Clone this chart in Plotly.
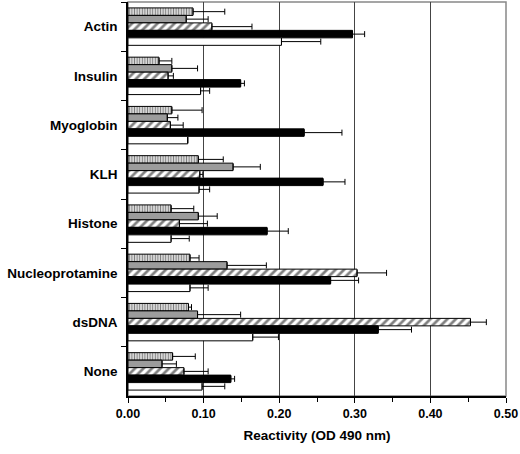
import plotly.graph_objects as go

antigens = ["Actin", "Insulin", "Myoglobin", "KLH", "Histone",
            "Nucleoprotamine", "dsDNA", "None"]

# five sera per antigen (top to bottom within a group)
striped = [0.086, 0.041, 0.058, 0.093, 0.057, 0.082, 0.080, 0.059]
striped_err = [0.042, 0.017, 0.040, 0.033, 0.030, 0.012, 0.004, 0.030]
gray = [0.077, 0.058, 0.052, 0.139, 0.093, 0.131, 0.092, 0.045]
gray_err = [0.029, 0.034, 0.014, 0.036, 0.025, 0.052, 0.057, 0.019]
hatched = [0.111, 0.053, 0.056, 0.095, 0.068, 0.303, 0.453, 0.074]
hatched_err = [0.053, 0.007, 0.017, 0.004, 0.037, 0.039, 0.021, 0.032]
black = [0.297, 0.149, 0.233, 0.258, 0.184, 0.268, 0.331, 0.136]
black_err = [0.016, 0.005, 0.050, 0.029, 0.028, 0.037, 0.044, 0.005]
white = [0.203, 0.096, 0.079, 0.094, 0.057, 0.082, 0.165, 0.098]
white_err = [0.052, 0.012, 0.000, 0.014, 0.024, 0.024, 0.034, 0.030]

x_ticks = [0, 0.1, 0.2, 0.3, 0.4, 0.5]
x_labels = ["0.00", "0.10", "0.20", "0.30", "0.40", "0.50"]

font = "Liberation Sans, Arial, sans-serif"


def bar(vals, errs, color, pattern=None):
    return go.Bar(
        y=antigens, x=vals, orientation="h",
        marker=dict(color=color, line=dict(color="black", width=1),
                    pattern=pattern),
        error_x=dict(type="data", array=errs, arrayminus=[0] * len(errs),
                     symmetric=False, color="black", thickness=1, width=3),
        showlegend=False,
    )


fig = go.Figure([
    bar(striped, striped_err, "white",
        dict(shape="|", fgcolor="black", bgcolor="white", size=2.6, solidity=0.55)),
    bar(gray, gray_err, "#9c9c9c"),
    bar(hatched, hatched_err, "white",
        dict(shape="/", fgcolor="black", bgcolor="white", size=6, solidity=0.45)),
    bar(black, black_err, "black"),
    bar(white, white_err, "white"),
])

fig.add_shape(type="rect", xref="paper", yref="paper", x0=0, x1=1, y0=0, y1=1,
              line=dict(color="#888", width=1.5), layer="below")

fig.update_layout(
    width=520, height=454,
    margin=dict(l=128, r=14, t=2, b=58, autoexpand=False),
    paper_bgcolor="white", plot_bgcolor="white",
    barmode="group", bargap=0.24, bargroupgap=0,
    font=dict(family=font, color="black"),
    xaxis=dict(
        range=[0, 0.5], tickvals=x_ticks, ticktext=x_labels,
        tickfont=dict(size=12.5, family=font, weight="bold"),
        ticks="outside", ticklen=5, tickcolor="black",
        showline=True, linecolor="black", linewidth=1.5,
        showgrid=True, gridcolor="#444", gridwidth=1,
        minor=dict(dtick=0.05, ticks="outside", ticklen=4, tickcolor="black",
                   showgrid=False),
        zeroline=False,
        title=dict(text="Reactivity (OD 490 nm)", standoff=11,
                   font=dict(size=13.5, family=font, weight="bold")),
    ),
    yaxis=dict(
        autorange="reversed", type="category",
        tickson="boundaries", ticks="outside", ticklen=5, tickcolor="black",
        showline=True, linecolor="black", linewidth=1.5,
        showgrid=False,
        tickfont=dict(size=13.5, family=font, weight="bold"),
        ticklabelstandoff=6,
    ),
)

fig.write_html("out.html", config={"displayModeBar": False},
               post_script="document.body.style.margin='0';"
                           "document.body.style.overflow='hidden';")
